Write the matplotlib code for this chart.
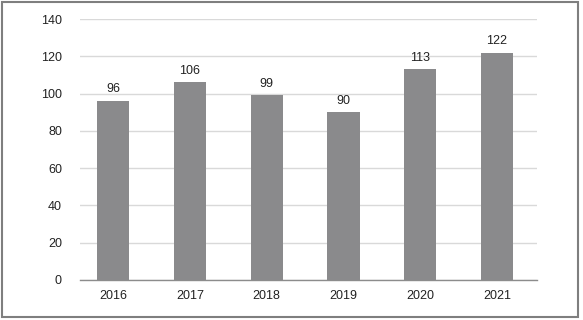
import matplotlib
matplotlib.use("Agg")
import matplotlib.pyplot as plt
from matplotlib.patches import Rectangle

categories = ["2016", "2017", "2018", "2019", "2020", "2021"]
values = [96, 106, 99, 90, 113, 122]
yticks = [0, 20, 40, 60, 80, 100, 120, 140]

plt.rcParams['font.family'] = ['Liberation Sans Narrow', 'Liberation Sans', 'DejaVu Sans']

fig = plt.figure(figsize=(5.83, 3.2), dpi=100)
ax = fig.add_axes([80/583, 1-280/320, 457/583, 261/320])

x = range(len(categories))
bars = ax.bar(x, values, width=0.42, color="#8a8a8c", zorder=3)
for xi, v in zip(x, values):
    ax.text(xi, v + 3, str(v), ha="center", va="bottom", fontsize=9, color="#222222")

ax.set_xlim(-0.43, len(categories) - 1 + 0.52)
ax.set_ylim(0, 140)
ax.set_yticks(yticks)
ax.set_xticks(list(x))
ax.set_xticklabels(categories)
ax.yaxis.grid(True, color="#d9d9d9", linewidth=1.0, zorder=0)
ax.tick_params(axis="both", length=0, labelsize=9, colors="#222222")
ax.tick_params(axis="y", pad=13)
ax.tick_params(axis="x", pad=7)
for s in ["top", "right", "left"]:
    ax.spines[s].set_visible(False)
ax.spines["bottom"].set_color("#8c8c8c")
ax.spines["bottom"].set_linewidth(1.0)

fig.patches.append(Rectangle((2/583, 3/320), 576/583, 315/320, transform=fig.transFigure,
                             fill=False, edgecolor="#7f7f7f", linewidth=1.5))

fig.savefig("out.png", dpi=100)
